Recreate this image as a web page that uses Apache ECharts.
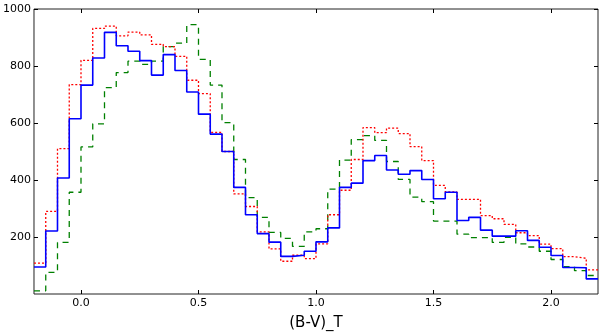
<!DOCTYPE html>
<html>
<head>
<meta charset="utf-8">
<script src="https://cdn.jsdelivr.net/npm/echarts@6/dist/echarts.min.js"></script>
<style>
  html, body { margin: 0; padding: 0; background: #fff; }
  #chart { width: 600px; height: 336px; }
</style>
</head>
<body>
<div id="chart"></div>
<script>
// bin edges of the (B-V)_T histograms
var binEdges = [-0.2, -0.15, -0.1, -0.05, 0.0, 0.05, 0.1, 0.15, 0.2, 0.25, 0.3, 0.35,
  0.4, 0.45, 0.5, 0.55, 0.6, 0.65, 0.7, 0.75, 0.8, 0.85, 0.9, 0.95,
  1.0, 1.05, 1.1, 1.15, 1.2, 1.25, 1.3, 1.35, 1.4, 1.45, 1.5, 1.55,
  1.6, 1.65, 1.7, 1.75, 1.8, 1.85, 1.9, 1.95, 2.0, 2.05, 2.1, 2.15, 2.2]

// counts per bin
var blueCounts = [95, 221, 407, 615, 733, 828, 918, 871, 852, 819, 768, 840,
  784, 709, 631, 561, 500, 374, 278, 212, 182, 132, 136, 150,
  183, 232, 374, 389, 468, 486, 435, 420, 433, 402, 334, 357,
  258, 269, 224, 203, 203, 222, 188, 164, 135, 93, 92, 53]
var redCounts = [108, 290, 510, 735, 820, 932, 940, 906, 919, 909, 876, 868,
  834, 750, 703, 567, 500, 351, 307, 218, 158, 115, 136, 124,
  176, 278, 364, 472, 584, 566, 582, 563, 517, 468, 381, 358,
  332, 332, 275, 264, 244, 215, 205, 175, 159, 131, 125, 85]
var greenCounts = [11, 76, 181, 357, 516, 597, 724, 777, 817, 806, 817, 868,
  880, 945, 823, 733, 601, 472, 338, 269, 216, 195, 167, 218,
  229, 368, 470, 542, 556, 539, 465, 402, 340, 324, 256, 256,
  210, 198, 198, 181, 199, 176, 165, 150, 121, 96, 82, 65]

var xTicks = [0.0, 0.5, 1.0, 1.5, 2.0]
var yTicks = [200, 400, 600, 800, 1000]

function stepData(counts) {
  var pts = []
  for (var i = 0; i < counts.length; i++) {
    pts.push([binEdges[i], counts[i]])
  }
  pts.push([binEdges[binEdges.length - 1], counts[counts.length - 1]])
  return pts
}

var myChart = echarts.init(document.getElementById('chart'))

var fontFamily = 'DejaVu Sans'
var tickStyle = { inside: true, length: 4, lineStyle: { color: '#000', width: 1 } }
var noLine = { show: false, onZero: false }

var option = {
  animation: false,
  grid: {
    left: 29,
    right: 2,
    top: 9,
    bottom: 34,
    show: true,
    borderColor: '#222',
    borderWidth: 1
  },
  xAxis: [
    {
      type: 'value',
      min: -0.2,
      max: 2.2,
      position: 'bottom',
      name: '(B-V)_T',
      nameLocation: 'middle',
      nameGap: 22,
      nameTextStyle: { fontFamily: fontFamily, fontSize: 15, color: '#000' },
      axisLine: noLine,
      axisTick: Object.assign({ customValues: xTicks }, tickStyle),
      splitLine: { show: false },
      axisLabel: {
        fontFamily: fontFamily,
        fontSize: 11,
        color: '#000',
        margin: 4,
        customValues: xTicks,
        formatter: function (v) { return v.toFixed(1) }
      }
    },
    {
      type: 'value',
      min: -0.2,
      max: 2.2,
      position: 'top',
      axisLine: noLine,
      axisTick: Object.assign({ customValues: xTicks }, tickStyle),
      axisLabel: { show: false },
      splitLine: { show: false }
    }
  ],
  yAxis: [
    {
      type: 'value',
      min: 0,
      max: 1000,
      interval: 200,
      position: 'left',
      axisLine: noLine,
      axisTick: Object.assign({ customValues: yTicks }, tickStyle),
      splitLine: { show: false },
      axisLabel: {
        fontFamily: fontFamily,
        fontSize: 11,
        color: '#000',
        margin: 3,
        customValues: yTicks,
        formatter: function (v) { return String(v) }
      }
    },
    {
      type: 'value',
      min: 0,
      max: 1000,
      interval: 200,
      position: 'right',
      axisLine: noLine,
      axisTick: Object.assign({ customValues: yTicks }, tickStyle),
      axisLabel: { show: false },
      splitLine: { show: false }
    }
  ],
  series: [
    {
      type: 'line',
      step: 'end',
      symbol: 'none',
      data: stepData(greenCounts),
      lineStyle: { color: '#008000', width: 1.3, type: [6, 5] },
      z: 2
    },
    {
      type: 'line',
      step: 'end',
      symbol: 'none',
      data: stepData(redCounts),
      lineStyle: { color: '#ff0000', width: 1.3, type: [2, 2] },
      z: 3
    },
    {
      type: 'line',
      step: 'end',
      symbol: 'none',
      data: stepData(blueCounts),
      lineStyle: { color: '#0000ff', width: 1.6 },
      z: 4
    }
  ]
}

myChart.setOption(option)
</script>
</body>
</html>
